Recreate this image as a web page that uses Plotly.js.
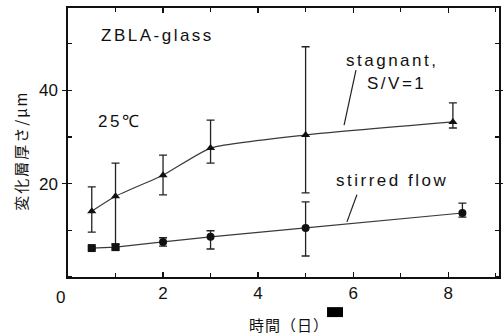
<!DOCTYPE html>
<html>
<head>
<meta charset="utf-8">
<script src="https://cdn.plot.ly/plotly-3.0.1.min.js"></script>
<style>
  html, body { margin: 0; padding: 0; background: #fff; }
  #chart { width: 503px; height: 335px; }
  text.annotation-text[data-unformatted="ZBLA-glass"],
  text.annotation-text[data-unformatted="stagnant,"],
  text.annotation-text[data-unformatted="S/V=1"],
  text.annotation-text[data-unformatted="stirred flow"],
  text.annotation-text[data-unformatted="25℃"] { letter-spacing: 2.5px; }
  text.annotation-text[data-unformatted="時間（日）"] { letter-spacing: 1px; }
  text.annotation-text[data-unformatted="変化層厚さ/μm"] { letter-spacing: 2px; }
</style>
</head>
<body>
<div id="chart"></div>
<script>
// Stagnant, S/V = 1 (triangles)
const stagX = [0.5, 1, 2, 3, 5, 8.1];
const stagY = [14.1, 17.3, 21.8, 27.6, 30.4, 33.2];
const stagTop = [19.3, 24.4, 26.1, 33.6, 49.3, 37.3];
const stagBottom = [9.6, 6.2, 17.6, 24.4, 18.0, 31.9];

// Stirred flow (circles)
const stirX = [0.5, 1, 2, 3, 5, 8.3];
const stirY = [6.2, 6.4, 7.5, 8.6, 10.5, 13.7];
const stirTop = [6.5, 7.0, 8.4, 9.9, 16.1, 15.8];
const stirBottom = [5.9, 5.8, 6.6, 6.0, 4.5, 12.8];
const stirSymbols = ['square', 'square', 'circle', 'circle', 'circle', 'circle'];

const xTickVals = [2, 4, 6, 8];
const xTickText = ['2', '4', '6', '8'];
const yTickVals = [20, 40];
const yTickText = ['20', '40'];

const plus = (top, y) => top.map((t, i) => t - y[i]);
const minus = (bot, y) => bot.map((b, i) => y[i] - b);

const lineColor = '#3a3a3a';

const traces = [
  {
    x: stagX, y: stagY, type: 'scatter', mode: 'lines+markers',
    line: { color: lineColor, width: 1.2, shape: 'spline', smoothing: 0.5 },
    marker: { symbol: 'triangle-up', size: 8, color: '#111' },
    error_y: { type: 'data', symmetric: false, array: plus(stagTop, stagY), arrayminus: minus(stagBottom, stagY),
               color: '#222', thickness: 1.3, width: 4 },
    showlegend: false, hoverinfo: 'skip'
  },
  {
    x: stirX, y: stirY, type: 'scatter', mode: 'lines+markers',
    line: { color: lineColor, width: 1.2 },
    marker: { symbol: stirSymbols, size: 8, color: '#111' },
    error_y: { type: 'data', symmetric: false, array: plus(stirTop, stirY), arrayminus: minus(stirBottom, stirY),
               color: '#222', thickness: 1.3, width: 4 },
    showlegend: false, hoverinfo: 'skip'
  }
];

const txtFont = { family: 'Liberation Sans, Arial, sans-serif', size: 17, color: '#111' };
const cjkFont = { family: 'Noto Sans CJK JP, sans-serif', size: 15, color: '#111' };

const layout = {
  width: 503, height: 335,
  margin: { l: 68, r: 4, t: 8, b: 58 },
  paper_bgcolor: '#fff', plot_bgcolor: '#fff',
  xaxis: {
    range: [0, 9.07], showgrid: false, zeroline: false,
    tickvals: xTickVals, ticktext: xTickText,
    ticks: 'inside', ticklen: 5, tickwidth: 1.2, tickcolor: '#111',
    showline: true, linecolor: '#111', linewidth: 1.6, mirror: 'ticks',
    minor: { dtick: 1, tick0: 0, ticks: 'inside', ticklen: 4, tickcolor: '#111', showgrid: false },
    tickfont: txtFont
  },
  yaxis: {
    range: [0, 57.6], showgrid: false, zeroline: false,
    tickvals: yTickVals, ticktext: yTickText,
    ticks: 'outside', ticklen: 4, tickwidth: 1.2, tickcolor: '#111',
    showline: true, linecolor: '#111', linewidth: 1.6, mirror: 'ticks',
    minor: { dtick: 10, tick0: 0, ticks: 'inside', ticklen: 4, tickcolor: '#111', showgrid: false },
    tickfont: txtFont, ticklabelstandoff: 1
  },
  annotations: [
    { x: 1.89, y: 51.7, xref: 'x', yref: 'y', xanchor: 'center', yanchor: 'middle', text: 'ZBLA-glass', showarrow: false, font: txtFont },
    { x: 1.09, y: 33.4, xref: 'x', yref: 'y', xanchor: 'center', yanchor: 'middle', text: '25℃', showarrow: false, font: txtFont },
    { x: 6.82, y: 46.3, xref: 'x', yref: 'y', xanchor: 'center', yanchor: 'middle', text: 'stagnant,', showarrow: false, font: txtFont },
    { x: 6.91, y: 41.5, xref: 'x', yref: 'y', xanchor: 'center', yanchor: 'middle', text: 'S/V=1', showarrow: false, font: txtFont },
    { x: 6.82, y: 20.6, xref: 'x', yref: 'y', xanchor: 'center', yanchor: 'middle', text: 'stirred flow', showarrow: false, font: txtFont },
    { x: -0.018, y: -0.075, xref: 'paper', yref: 'paper', xanchor: 'center', yanchor: 'middle', text: '0', showarrow: false, font: txtFont },
    { x: 0.513, y: -0.175, xref: 'paper', yref: 'paper', xanchor: 'center', yanchor: 'middle', text: '時間（日）', showarrow: false, font: cjkFont },
    { x: -0.111, y: 0.47, xref: 'paper', yref: 'paper', xanchor: 'center', yanchor: 'middle', text: '変化層厚さ/μm', textangle: -90, showarrow: false, font: cjkFont }
  ],
  shapes: [
    { type: 'line', xref: 'x', yref: 'y', x0: 6.06, y0: 44.3, x1: 5.81, y1: 32.5, line: { color: '#222', width: 1.2 } },
    { type: 'line', xref: 'x', yref: 'y', x0: 6.08, y0: 17.6, x1: 5.87, y1: 11.8, line: { color: '#222', width: 1.2 } },
    { type: 'rect', xref: 'paper', yref: 'paper', x0: 0.601, x1: 0.638, y0: -0.149, y1: -0.112, fillcolor: '#000', line: { width: 0 } }
  ]
};

Plotly.newPlot('chart', traces, layout, { staticPlot: true, displayModeBar: false });
</script>
</body>
</html>
